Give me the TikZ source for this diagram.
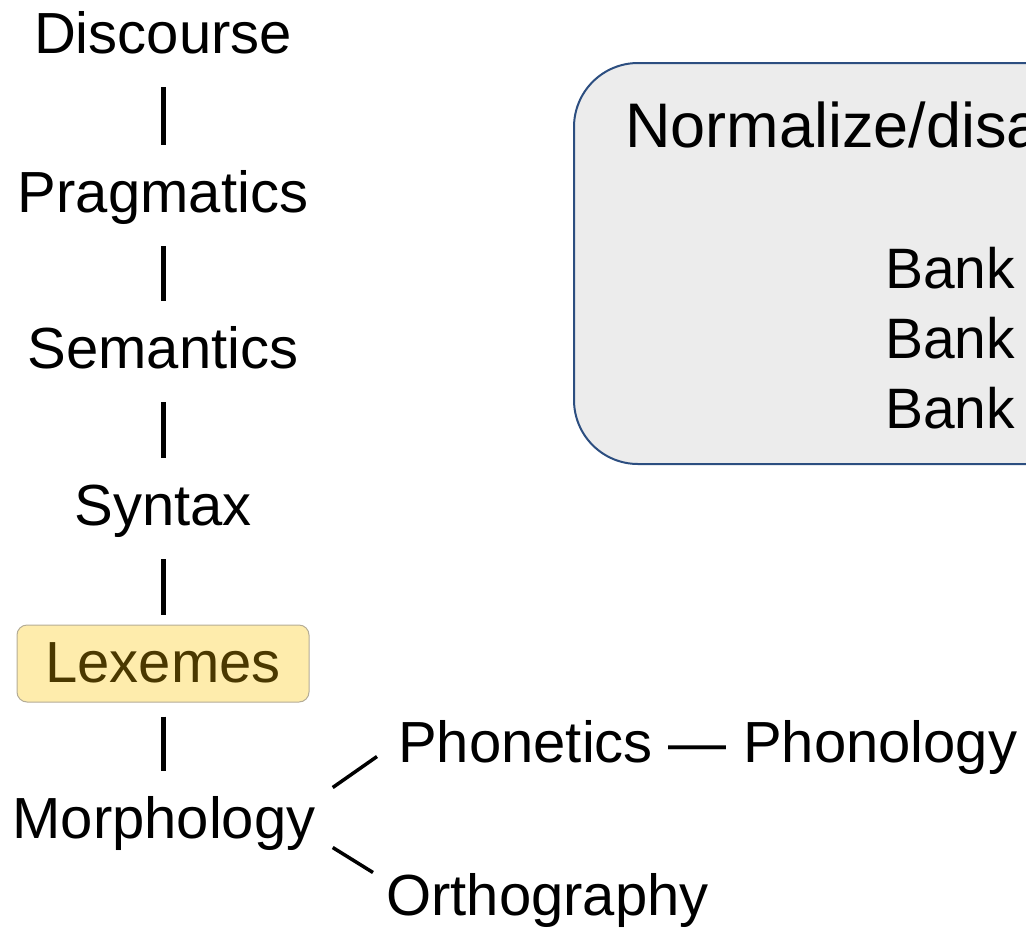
\documentclass[tikz,border=0pt]{standalone}
\usepackage{fontspec}
\setmainfont{Liberation Sans}
\definecolor{lexfill}{RGB}{254,236,172}
\definecolor{lexborder}{RGB}{180,172,150}
\definecolor{lextext}{RGB}{74,56,0}
\definecolor{boxfill}{RGB}{236,236,236}
\definecolor{boxborder}{RGB}{44,78,128}
\begin{document}
\begin{tikzpicture}[x=1pt,y=1pt,
  big/.style={font=\fontsize{58}{69}\selectfont},
  lbl/.style={big, inner sep=0pt, text height=41pt, text depth=12pt, anchor=base},
  bar/.style={line width=5pt, shorten <=22pt, shorten >=26pt},
  branch/.style={line width=3.5pt},
  lexbox/.style={big, draw=lexborder, fill=lexfill, text=lextext, rounded corners=10pt,
    line width=1pt, inner xsep=0pt, inner ysep=12pt, minimum width=292pt,
    text height=45pt, text depth=8pt, anchor=base},
  nbox/.style={draw=boxborder, fill=boxfill, line width=2pt, rounded corners=64pt,
    anchor=north west, inner sep=0pt, minimum width=800pt, minimum height=401pt},
  boxtext/.style={inner sep=0pt, anchor=base west}]
\useasboundingbox (0,0) rectangle (1026,-927);
\clip (0,0) rectangle (1026,-927);

% left column
\node[lbl] (disc) at (163,-53) {Discourse};
\node[lbl] (prag) at (163,-212) {Pragmatics};
\node[lbl] (sem) at (163,-368) {Semantics};
\node[lbl] (syn) at (163,-525) {Syntax};
\node[lexbox] (lex) at (163,-682) {Lexemes};
\node[lbl] (morph) at (164,-838) {Morphology};
\node[lbl, anchor=base west] (phon) at (398,-762) {Phonetics — Phonology};
\node[lbl, anchor=base west] (orth) at (386,-915) {Orthography};

\draw[bar] (disc.south) -- (prag.north);
\draw[bar] (prag.south) -- (sem.north);
\draw[bar] (sem.south) -- (syn.north);
\draw[bar, shorten >=10pt] (syn.south) -- (lex.north);
\draw[bar, shorten <=14pt, shorten >=26pt] (lex.south) -- ([xshift=-1pt]morph.north);

\draw[branch] ([shift={(17,36)}]morph.east) -- ([shift={(-21,-9)}]phon.west);
\draw[branch] ([shift={(17,-24)}]morph.east) -- ([shift={(-13,28)}]orth.west);

% grey box
\node[nbox] (box) at (573,-62) {};
\node[boxtext, font=\fontsize{63}{75}\selectfont] (norm) at (625,-147) {Normalize/disa};
\node[boxtext, font=\fontsize{57}{68}\selectfont] (bank1) at (885,-288) {Bank};
\node[boxtext, font=\fontsize{57}{68}\selectfont] (bank2) at (885,-358) {Bank};
\node[boxtext, font=\fontsize{57}{68}\selectfont] (bank3) at (885,-428) {Bank};
\end{tikzpicture}
\end{document}
